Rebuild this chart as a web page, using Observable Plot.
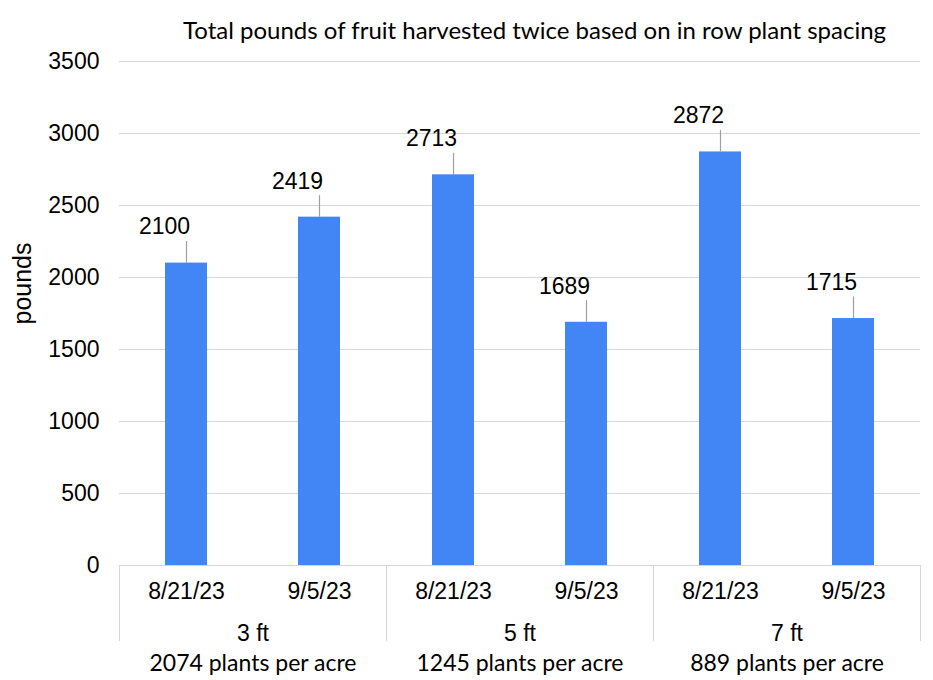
<!DOCTYPE html>
<html>
<head>
<meta charset="utf-8">
<script src="https://cdn.jsdelivr.net/npm/d3@7"></script>
<script src="https://cdn.jsdelivr.net/npm/@observablehq/plot@0.6"></script>
<style>
  html, body { margin: 0; padding: 0; background: #fff; }
  #wrap { position: relative; width: 933px; height: 680px; overflow: hidden; }
  #title { position: absolute; left: 183px; top: 18px; font-family: Lato, "Open Sans", sans-serif; font-size: 24px; line-height: 24px; color: #000; white-space: nowrap; z-index: 2; }
  #chart { position: absolute; left: 0; top: 30px; }
</style>
</head>
<body>
<div id="wrap">
  <div id="chart"></div>
  <div id="title">Total pounds of fruit harvested twice based on in row plant spacing</div>
</div>
<script>
// ---- data ----
const spacings = ["3 ft", "5 ft", "7 ft"];
const plantsPerAcre = [2074, 1245, 889];
const dates = ["8/21/23", "9/5/23"];
const harvestAug21 = [2100, 2713, 2872];
const harvestSep5 = [2419, 1689, 1715];
const yTicks = [0, 500, 1000, 1500, 2000, 2500, 3000, 3500];
const yLabel = "pounds";

// build table
const rows = [];
spacings.forEach((s, i) => {
  rows.push({spacing: s, date: dates[0], value: harvestAug21[i]});
  rows.push({spacing: s, date: dates[1], value: harvestSep5[i]});
});
const groups = spacings.map((s, i) => ({spacing: s, plants: `${plantsPerAcre[i]} plants per acre`}));

const sans = "'Liberation Sans', Arial, Helvetica, sans-serif";
const lato = "Lato, 'Open Sans', sans-serif";
const blue = "#4285F4";
const grid = "#d6d6d6";

const chart = Plot.plot({
  width: 933,
  height: 650,
  marginTop: 31,
  marginBottom: 115,
  marginLeft: 119,
  marginRight: 13,
  style: {fontFamily: sans, background: "transparent", color: "#000"},
  fx: {domain: spacings, padding: 0, axis: null, label: null},
  x: {domain: dates, paddingInner: 0.685, paddingOuter: 0.3425, axis: null, label: null},
  y: {domain: [0, 3500], axis: null, label: null},
  marks: [
    Plot.gridY(yTicks, {stroke: grid, strokeOpacity: 1, strokeWidth: 1}),
    Plot.axisY(yTicks, {tickSize: 0, tickPadding: 20, tickFormat: d => String(d), fontSize: 23, fontFamily: sans, label: null, fill: "#000"}),
    Plot.barY(rows, {fx: "spacing", x: "date", y: "value", fill: blue}),
    Plot.ruleX(rows, {fx: "spacing", x: "date", y1: "value", y2: d => d.value + 150, stroke: "#a0a0a0", strokeWidth: 1.2}),
    Plot.text(rows, {fx: "spacing", x: "date", y: "value", text: d => String(d.value), dx: -22, dy: -36, lineAnchor: "middle", fontSize: 23, fontFamily: sans, fill: "#000"}),
    Plot.frame({anchor: "left", stroke: grid, strokeOpacity: 1, insetTop: 504, insetBottom: -75}),
    Plot.frame({anchor: "right", stroke: grid, strokeOpacity: 1, insetTop: 504, insetBottom: -75}),
    Plot.text(rows, {fx: "spacing", x: "date", text: "date", frameAnchor: "bottom", dy: 26, lineAnchor: "middle", fontSize: 23, fontFamily: sans, fill: "#000"}),
    Plot.text(groups, {fx: "spacing", text: "spacing", frameAnchor: "bottom", dy: 68, lineAnchor: "middle", fontSize: 23, fontFamily: sans, fill: "#000"}),
    Plot.text(groups, {fx: "spacing", text: "plants", frameAnchor: "bottom", dy: 98, lineAnchor: "middle", fontSize: 23, fontFamily: lato, fill: "#000"}),
    Plot.text([{spacing: spacings[0]}], {fx: "spacing", text: () => yLabel, frameAnchor: "left", dx: -97, dy: 11, rotate: -90, lineAnchor: "middle", fontSize: 25, fontFamily: sans, fill: "#000"})
  ]
});
document.getElementById("chart").appendChild(chart);
</script>
</body>
</html>
